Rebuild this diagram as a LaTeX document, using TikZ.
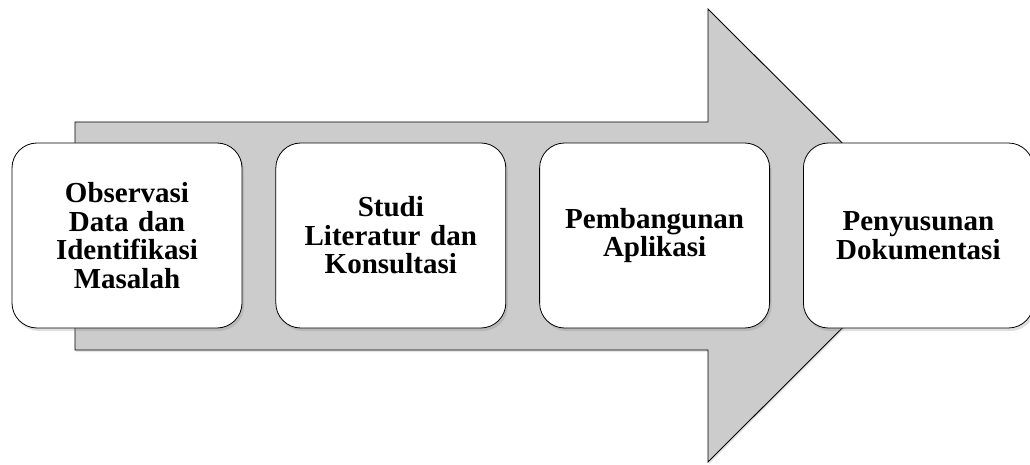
\documentclass[tikz,border=0pt]{standalone}
\usepackage{fontspec}
\setmainfont{Liberation Serif}
\usetikzlibrary{positioning,shadows}

\begin{document}
\begin{tikzpicture}[x=1pt, y=-1pt,
  stage/.style={rectangle, draw, thick, rounded corners=25pt, fill=white,
                minimum width=230pt, minimum height=185pt, inner sep=2pt,
                text width=222pt, align=center,
                font=\fontsize{29}{28.5}\selectfont\bfseries,
                drop shadow={shadow xshift=2pt, shadow yshift=-3pt, opacity=0.25}},
  flow/.style={draw, line width=0.9pt, fill=gray!40,
               drop shadow={shadow xshift=1pt, shadow yshift=-2pt, opacity=0.2}},
]
\useasboundingbox (0,0) rectangle (1030,465);

% big arrow behind the stages
\draw[flow] (75,122) -- (708,122) -- (708,9) -- (935,235.5) -- (708,462)
  -- (708,350) -- (75,350) -- cycle;

\node[stage] (obs) at (127,235.5) {Observasi\\Data dan\\Identifikasi\\Masalah};
\node[stage, right=33pt of obs] (studi) {Studi\\Literatur dan\\Konsultasi};
\node[stage, right=33pt of studi] (bangun) {Pembangunan\\Aplikasi};
\node[stage, right=33pt of bangun] (susun) {Penyusunan\\Dokumentasi};

\end{tikzpicture}
\end{document}
